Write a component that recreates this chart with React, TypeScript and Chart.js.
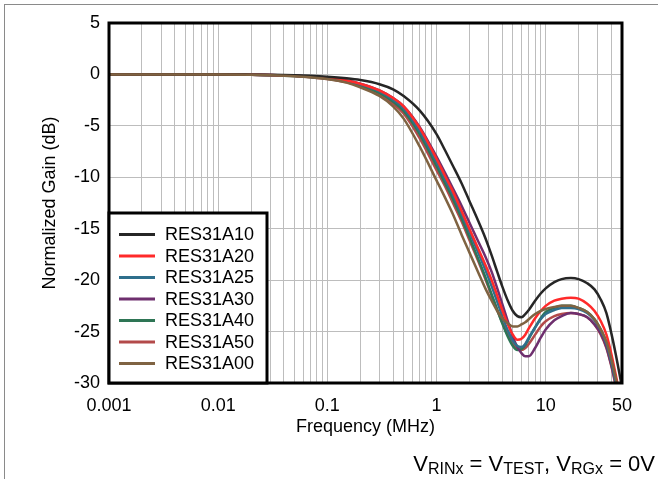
import React, { useEffect, useRef } from "react";
import { Chart, registerables } from "chart.js";

Chart.register(...registerables);

const FONT = "'Liberation Sans', Arial, Helvetica, sans-serif";

const FREQ = [0.001, 0.01, 0.02, 0.03, 0.05, 0.07, 0.1, 0.15, 0.2, 0.3, 0.4, 0.5, 0.7, 1, 1.2, 1.4, 1.7, 2, 2.4, 2.8, 3.2, 3.6, 4, 4.5, 5, 5.5, 6, 6.5, 7, 8, 9, 10, 12, 14, 17, 20, 24, 28, 32, 36, 40, 44, 47, 50];

const RES31A10 = [0, 0, -0.02, -0.04, -0.08, -0.13, -0.22, -0.38, -0.55, -0.95, -1.45, -2.1, -3.5, -5.8, -7.4, -8.8, -10.6, -12.3, -14.2, -15.9, -17.6, -19.2, -20.6, -22.0, -23.0, -23.5, -23.6, -23.3, -22.9, -22.0, -21.3, -20.8, -20.2, -19.9, -19.8, -19.9, -20.3, -20.9, -21.9, -23.2, -25.2, -27.3, -28.9, -30.4];
const RES31A20 = [0, -0.01, -0.03, -0.06, -0.13, -0.21, -0.35, -0.6, -0.9, -1.55, -2.3, -3.1, -5.2, -8.2, -9.9, -11.3, -13.3, -15.0, -16.9, -18.5, -20.0, -21.5, -22.9, -24.3, -25.3, -25.8, -25.7, -25.3, -24.7, -23.7, -23.0, -22.5, -22.0, -21.8, -21.7, -21.8, -22.3, -23.0, -24.0, -25.3, -27.2, -29.3, -30.8, -32];
const RES31A25 = [0, -0.01, -0.03, -0.07, -0.14, -0.23, -0.38, -0.65, -0.97, -1.65, -2.45, -3.3, -5.5, -8.5, -10.2, -11.6, -13.6, -15.3, -17.3, -19.0, -20.6, -22.1, -23.5, -24.9, -25.9, -26.4, -26.5, -26.2, -25.6, -24.6, -23.8, -23.3, -22.9, -22.7, -22.7, -22.8, -23.2, -23.9, -24.9, -26.2, -28.0, -30.0, -31.4, -32.5];
const RES31A30 = [0, -0.01, -0.03, -0.06, -0.13, -0.21, -0.35, -0.6, -0.9, -1.55, -2.3, -3.1, -5.1, -8.0, -9.6, -11.0, -12.8, -14.4, -16.2, -17.7, -19.2, -20.8, -22.3, -24.0, -25.5, -26.5, -27.1, -27.4, -27.4, -26.6, -25.6, -24.8, -23.9, -23.5, -23.2, -23.3, -23.6, -24.3, -25.2, -26.5, -28.3, -30.2, -31.6, -33];
const RES31A40 = [0, -0.01, -0.04, -0.07, -0.15, -0.25, -0.41, -0.7, -1.05, -1.8, -2.65, -3.55, -5.8, -8.9, -10.6, -12.0, -14.0, -15.8, -17.9, -19.7, -21.4, -22.9, -24.2, -25.5, -26.4, -26.8, -26.7, -26.3, -25.7, -24.6, -23.7, -23.1, -22.7, -22.5, -22.5, -22.7, -23.1, -23.8, -24.8, -26.1, -27.9, -29.9, -31.3, -32.5];
const RES31A50 = [0, -0.01, -0.04, -0.08, -0.16, -0.27, -0.45, -0.76, -1.12, -1.95, -2.85, -3.8, -6.2, -9.3, -10.9, -12.4, -14.3, -16.1, -18.1, -19.9, -21.5, -22.9, -24.1, -25.3, -26.2, -26.7, -26.8, -26.6, -26.2, -25.3, -24.5, -24.0, -23.5, -23.3, -23.2, -23.3, -23.6, -24.3, -25.3, -26.6, -28.4, -30.4, -31.8, -33];
const RES31A00 = [0, -0.01, -0.04, -0.08, -0.17, -0.28, -0.45, -0.8, -1.25, -2.1, -3.1, -4.3, -7.0, -10.3, -12.0, -13.5, -15.6, -17.3, -19.2, -20.8, -22.0, -23.0, -23.7, -24.2, -24.5, -24.5, -24.3, -24.1, -23.8, -23.3, -23.0, -22.8, -22.6, -22.5, -22.5, -22.7, -23.1, -23.8, -24.8, -26.0, -27.7, -29.6, -31.0, -32];

const SERIES_NAMES = ["RES31A10", "RES31A20", "RES31A25", "RES31A30", "RES31A40", "RES31A50", "RES31A00"];
const SERIES_VALUES = [RES31A10, RES31A20, RES31A25, RES31A30, RES31A40, RES31A50, RES31A00];
const SERIES_COLORS = ["#262626", "#ff2a2a", "#2f6f8c", "#6e2f6e", "#2e7555", "#b34a4a", "#7f6342"];
const SERIES_ORDER = [1, 2, 3, 4, 5, 6, 0];

const X_TICK_LABELS = ["0.001", "0.01", "0.1", "1", "10", "50"];
const X_MIN = 0.001;
const X_MAX = 50;
const Y_MIN = -30;
const Y_MAX = 5;
const Y_STEP = 5;

function buildXGrid(): number[] {
  const out: number[] = [];
  for (let e = -3; e <= 1; e++) {
    for (let m = 1; m <= 9; m++) {
      const v = parseFloat((m * Math.pow(10, e)).toPrecision(6));
      if (v >= X_MIN - 1e-12 && v <= X_MAX + 1e-9) out.push(v);
    }
  }
  return out;
}

const framePlugin = {
  id: "frameAndLegend",
  afterDraw(chart: any) {
    const { ctx, chartArea } = chart;
    const { left, top, right, bottom } = chartArea;
    ctx.save();
    ctx.strokeStyle = "#000";
    ctx.lineWidth = 3;
    ctx.strokeRect(left, top, right - left, bottom - top);

    const bw = 158;
    const bh = 170;
    const bx = left;
    const by = bottom - bh;
    ctx.fillStyle = "#fff";
    ctx.fillRect(bx, by, bw, bh);
    ctx.lineWidth = 3;
    ctx.strokeStyle = "#000";
    ctx.strokeRect(bx, by, bw, bh);

    const datasets = chart.data.datasets;
    ctx.font = `18px ${FONT}`;
    ctx.textBaseline = "middle";
    ctx.textAlign = "left";
    datasets.forEach((ds: any, i: number) => {
      const cy = by + 21.5 + i * 21.5;
      ctx.strokeStyle = ds.borderColor;
      ctx.lineWidth = 3;
      ctx.beginPath();
      ctx.moveTo(bx + 10, cy);
      ctx.lineTo(bx + 46, cy);
      ctx.stroke();
      ctx.fillStyle = "#000";
      ctx.fillText(ds.label, bx + 56, cy + 1);
    });
    ctx.restore();
  },
};

export default function App() {
  const ref = useRef<HTMLCanvasElement>(null);

  useEffect(() => {
    const xGrid = buildXGrid();
    const datasets = SERIES_NAMES.map((name, si) => ({
      label: name,
      data: FREQ.map((f, i) => ({ x: f, y: SERIES_VALUES[si][i] })),
      borderColor: SERIES_COLORS[si],
      backgroundColor: SERIES_COLORS[si],
      borderWidth: 2.5,
      pointRadius: 0,
      cubicInterpolationMode: "monotone" as const,
      fill: false,
      order: SERIES_ORDER[si],
    }));

    const chart = new Chart(ref.current as HTMLCanvasElement, {
      type: "line",
      data: { datasets },
      options: {
        animation: false,
        responsive: false,
        devicePixelRatio: 1,
        layout: { padding: { left: 39, right: 36, top: 23, bottom: 41 } },
        plugins: {
          legend: { display: false },
          tooltip: { enabled: false },
        },
        scales: {
          x: {
            type: "logarithmic",
            min: X_MIN,
            max: X_MAX,
            afterBuildTicks: (scale: any) => {
              scale.ticks = xGrid.map((v) => ({ value: v }));
            },
            afterFit: (scale: any) => {
              scale.height = 55;
            },
            ticks: {
              autoSkip: false,
              maxRotation: 0,
              padding: 12,
              color: "#000",
              font: { family: FONT, size: 18 },
              callback: (value: any) => {
                const v = Number(value);
                const lab = X_TICK_LABELS.find((l) => Math.abs(Math.log10(Number(l)) - Math.log10(v)) < 1e-6);
                return lab ?? "";
              },
            },
            grid: { color: "#bdbdbd", lineWidth: 1, drawTicks: false },
            border: { display: false },
            title: {
              display: true,
              text: "Frequency (MHz)",
              color: "#000",
              font: { family: FONT, size: 18 },
              padding: 0,
            },
          },
          y: {
            type: "linear",
            min: Y_MIN,
            max: Y_MAX,
            afterFit: (scale: any) => {
              scale.width = 70;
            },
            ticks: {
              stepSize: Y_STEP,
              padding: 9,
              color: "#000",
              font: { family: FONT, size: 18 },
            },
            grid: { color: "#bdbdbd", lineWidth: 1, drawTicks: false },
            border: { display: false },
            title: {
              display: true,
              text: "Normalized Gain (dB)",
              color: "#000",
              font: { family: FONT, size: 18 },
              padding: 0,
            },
          },
        },
      },
      plugins: [framePlugin],
    } as any);
    return () => chart.destroy();
  }, []);

  const sub: React.CSSProperties = { fontSize: 16, position: "relative", top: 3 };

  return (
    <div style={{ position: "fixed", left: 0, top: 0, width: 658, height: 479, overflow: "hidden", background: "#fff" }}>
      <div style={{ position: "absolute", left: 4, top: 4, width: 720, height: 600, border: "1px solid #8a8a8a", boxSizing: "border-box" }} />
      <canvas ref={ref} width={658} height={479} style={{ position: "absolute", left: 0, top: 0, width: 658, height: 479 }} />
      <div style={{ position: "absolute", right: 3, top: 453, fontFamily: FONT, fontSize: 22, lineHeight: "22px", whiteSpace: "nowrap", color: "#000" }}>
        V<span style={sub}>RINx</span> = V<span style={sub}>TEST</span>, V<span style={sub}>RGx</span> = 0V
      </div>
    </div>
  );
}
